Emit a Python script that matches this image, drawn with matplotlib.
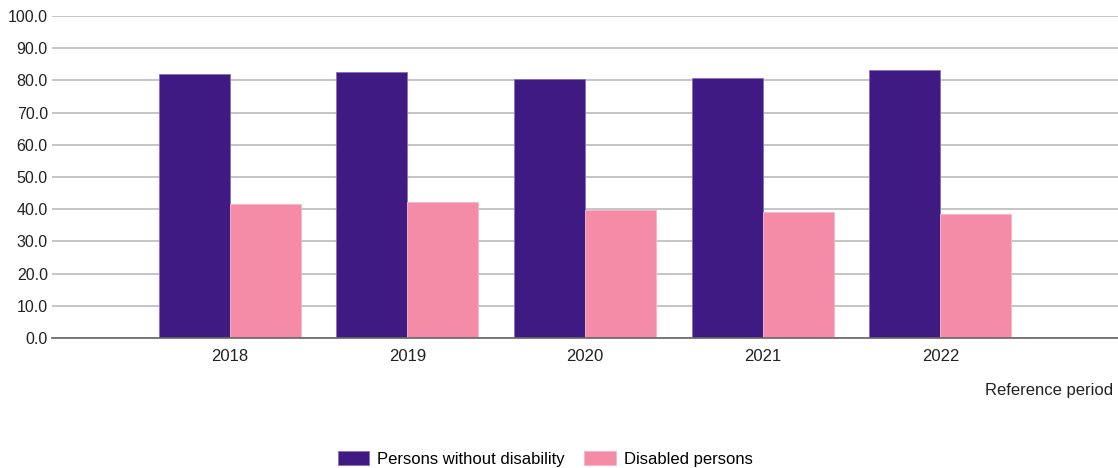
import matplotlib.pyplot as plt
import numpy as np

plt.rcParams['font.family'] = ['Liberation Sans', 'DejaVu Sans']

years = ['2018', '2019', '2020', '2021', '2022']
without_disability = [82.0, 82.5, 80.4, 80.8, 83.2]
disabled = [41.6, 42.3, 39.9, 39.1, 38.5]

dark = '#3F1A82'
pink = '#F48CA8'

fig = plt.figure(figsize=(11.18, 4.68), dpi=100)
ax = fig.add_axes([52 / 1118, 1 - 338 / 468, 1 - 52 / 1118, (338 - 16) / 468])

x = np.arange(len(years))
w = 0.4
ax.bar(x - w / 2, without_disability, width=w, color=dark, edgecolor='#8870B8', linewidth=0.6,
       label='Persons without disability', zorder=3)
ax.bar(x + w / 2, disabled, width=w, color=pink, edgecolor='#F8B4C6', linewidth=0.6,
       label='Disabled persons', zorder=3)

ax.set_xlim(-1, 5)
ax.set_ylim(0, 100)
ax.set_yticks(np.arange(0, 101, 10))
ax.set_yticklabels([f'{v:.1f}' for v in np.arange(0, 101, 10)], fontsize=11.5, color='#222222')
ax.set_xticks(x)
ax.set_xticklabels(years, fontsize=12, color='#222222')
ax.tick_params(axis='both', length=0)
ax.tick_params(axis='y', pad=3)
ax.tick_params(axis='x', pad=8)

ax.grid(axis='y', color='#BBBBBB', linewidth=1.2, zorder=0)
for side in ['top', 'right', 'left']:
    ax.spines[side].set_visible(False)
ax.spines['bottom'].set_color('#666666')
ax.spines['bottom'].set_linewidth(1.2)
ax.spines['bottom'].set_zorder(4)

fig.text(1113 / 1118, 1 - 390 / 468, 'Reference period', ha='right', va='center',
         fontsize=12, color='#222222')

fig.legend(loc='center', bbox_to_anchor=(545 / 1118, 1 - 459 / 468), ncol=2, frameon=False,
           fontsize=12, handlelength=1.9, handleheight=0.9, columnspacing=1.2, handletextpad=0.45)

plt.savefig('out.png', dpi=100)
